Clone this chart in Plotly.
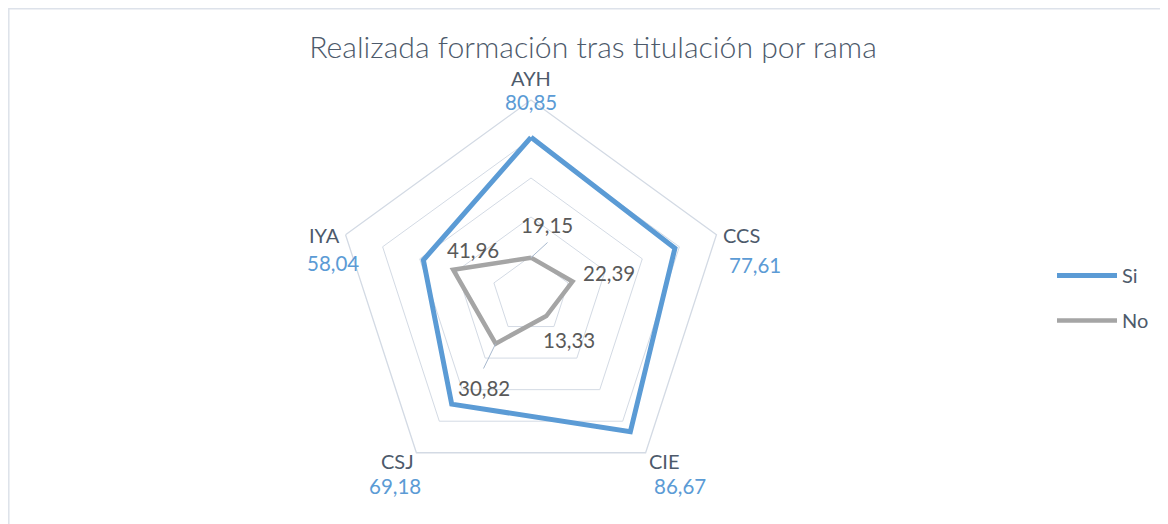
import math
import plotly.graph_objects as go

# ---------------- data ----------------
categories = ["AYH", "CCS", "CIE", "CSJ", "IYA"]
si_values = [80.85, 77.61, 86.67, 69.18, 58.04]
no_values = [19.15, 22.39, 13.33, 30.82, 41.96]
series_names = ["Si", "No"]
title_text = "Realizada formación tras titulación por rama"


def fmt(v):
    return f"{v:.2f}".replace(".", ",")


# ---------------- layout constants ----------------
OFF = 8                              # page body margin
W, H = 1168 - OFF, 524 - OFF         # figure size
CX, CY, R = 531, 295, 195            # polar centre / radius (page pixels)
FONT = "Lato, 'Open Sans', sans-serif"
SLATE = "#4D5A6B"
GREY_TXT = "#595959"
BLUE = "#5B9BD5"
GREY = "#A5A5A5"
GRID = "#D3DAE4"

# label centres (page pixels)
cat_label_pos = [(531, 78), (741, 235), (664, 461), (397, 461), (324, 235)]
si_label_pos = [(531, 102), (755, 265), (680, 486), (395, 486), (333, 263)]
no_label_pos = [(547, 225), (609, 273), (569, 340), (484, 388), (473, 250)]
leader_idx = [0, 3]
leader_end = [(547.5, 242.5), (483.5, 368.5)]


def px_to_paper(x, y):
    return (x - OFF) / W, 1 - (y - OFF) / H


def polar_px(r, k):
    a = math.radians(90 - 72 * k)
    return CX + R * r / 100 * math.cos(a), CY - R * r / 100 * math.sin(a)


fig = go.Figure()
closed = categories + categories[:1]
fig.add_trace(go.Scatterpolar(
    r=si_values + si_values[:1], theta=closed, mode="lines", name=series_names[0],
    line=dict(color=BLUE, width=5), legendgroup="a", hoverinfo="skip"))
fig.add_trace(go.Scatterpolar(
    r=no_values + no_values[:1], theta=closed, mode="lines", name=series_names[1],
    line=dict(color=GREY, width=4.5), legendgroup="b", hoverinfo="skip"))

annotations = []
for k, cat in enumerate(categories):
    x, y = px_to_paper(*cat_label_pos[k])
    annotations.append(dict(x=x, y=y, xref="paper", yref="paper", text=cat,
                            showarrow=False, xanchor="center", yanchor="middle",
                            font=dict(family=FONT, size=20, color=SLATE)))
    x, y = px_to_paper(*si_label_pos[k])
    annotations.append(dict(x=x, y=y, xref="paper", yref="paper", text=fmt(si_values[k]),
                            showarrow=False, xanchor="center", yanchor="middle",
                            font=dict(family=FONT, size=20.5, color=BLUE)))
    x, y = px_to_paper(*no_label_pos[k])
    annotations.append(dict(x=x, y=y, xref="paper", yref="paper", text=fmt(no_values[k]),
                            showarrow=False, xanchor="center", yanchor="middle",
                            font=dict(family=FONT, size=20.5, color=GREY_TXT)))

shapes = [dict(type="rect", xref="paper", yref="paper",
               x0=0.8 / W, x1=1.02, y0=-0.02, y1=1 - 0.8 / H,
               line=dict(color="#DDE2EA", width=1.5), layer="below")]
for k, end in zip(leader_idx, leader_end):
    sx, sy = polar_px(no_values[k], k)
    x0, y0 = px_to_paper(sx, sy)
    x1, y1 = px_to_paper(*end)
    shapes.append(dict(type="line", xref="paper", yref="paper", x0=x0, y0=y0, x1=x1, y1=y1,
                       line=dict(color="#A8B9CE", width=1)))

tx, ty = px_to_paper(593, 47)
lx, ly = px_to_paper(1052, 256)
fig.update_layout(
    width=W, height=H, autosize=False,
    margin=dict(l=0, r=0, t=0, b=0),
    paper_bgcolor="white", plot_bgcolor="white",
    title=dict(text=title_text, x=tx, xanchor="center", y=ty, yanchor="middle",
               font=dict(family=FONT, size=30.2, color=SLATE, weight=300)),
    polar=dict(
        domain=dict(x=[(CX - R - OFF) / W, (CX + R - OFF) / W],
                    y=[1 - (CY + R - OFF) / H, 1 - (CY - R - OFF) / H]),
        gridshape="linear",
        bgcolor="white",
        radialaxis=dict(range=[0, 100], tickvals=[20, 40, 60, 80, 100], showticklabels=False,
                        showline=False, ticks="", gridcolor=GRID, gridwidth=1.3),
        angularaxis=dict(rotation=90, direction="clockwise", showticklabels=False, ticks="",
                         showgrid=False, showline=True, linecolor=GRID, linewidth=1.3),
    ),
    showlegend=True,
    legend=dict(x=lx, xanchor="left", y=ly, yanchor="top", itemwidth=60,
                font=dict(family=FONT, size=20, color=SLATE), tracegroupgap=16,
                bgcolor="rgba(0,0,0,0)"),
    annotations=annotations,
    shapes=shapes,
)

fig.write_html("out.html")
